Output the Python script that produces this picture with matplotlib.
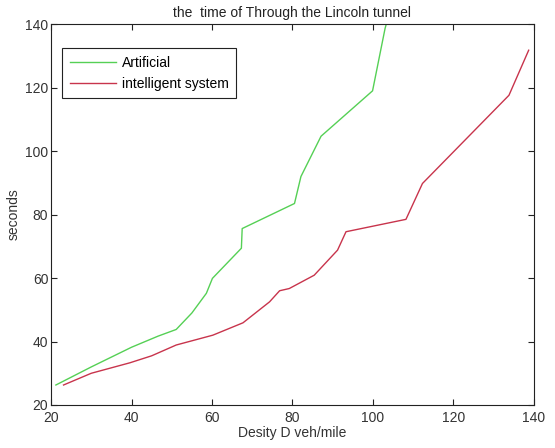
import matplotlib
matplotlib.use("Agg")
import matplotlib.pyplot as plt

# Artificial control (green)
art_x = [21.2, 30.0, 40.0, 46.6, 51.1, 55.0, 58.6, 60.1, 67.3, 67.5, 80.5, 82.1, 87.1, 99.9, 103.0, 103.3]
art_y = [26.3, 32.0, 38.2, 41.7, 43.8, 49.0, 55.2, 59.9, 69.4, 75.6, 83.5, 92.0, 104.7, 119.0, 138.6, 140.0]

# intelligent system (red)
int_x = [23.1, 30.0, 39.6, 45.0, 51.1, 60.2, 67.7, 74.3, 76.8, 79.2, 85.4, 91.2, 93.3, 108.2, 112.3, 133.8, 138.7]
int_y = [26.3, 30.0, 33.3, 35.5, 38.9, 42.0, 45.9, 52.5, 56.0, 56.7, 60.9, 68.8, 74.6, 78.5, 89.8, 117.6, 131.8]

plt.rcParams['font.family'] = ['Liberation Sans', 'DejaVu Sans']
plt.rcParams['font.size'] = 10

fig = plt.figure(figsize=(5.55, 4.48), dpi=100)
ax = fig.add_axes([0.092, 0.096, 0.870, 0.850])

ax.plot(art_x, art_y, color='#55d055', lw=1.0, label='Artificial')
ax.plot(int_x, int_y, color='#c8344c', lw=1.0, label='intelligent system')

ax.set_xlim(20, 140)
ax.set_ylim(20, 140)
ax.set_xticks(range(20, 141, 20))
ax.set_yticks(range(20, 141, 20))
ax.tick_params(direction='in', top=True, right=True, length=4, width=0.8,
               colors='#222222', labelcolor='#333333')
ax.tick_params(axis='x', pad=4)
ax.tick_params(axis='y', pad=2)
for s in ax.spines.values():
    s.set_linewidth(0.8)
    s.set_color('#222222')

ax.set_title('the  time of Through the Lincoln tunnel', fontsize=10, pad=5, color='#222222')
ax.set_xlabel('Desity D veh/mile', labelpad=1, color='#333333')
ax.set_ylabel('seconds', labelpad=3, color='#333333')

leg = ax.legend(loc='upper left', bbox_to_anchor=(0.023, 0.937), fancybox=False,
                edgecolor='#222222', framealpha=1, borderpad=0.55, handlelength=3.3,
                handletextpad=0.45, labelspacing=0.5, borderaxespad=0, fontsize=10)
leg.get_frame().set_linewidth(0.8)

fig.savefig('out.png', dpi=100)
